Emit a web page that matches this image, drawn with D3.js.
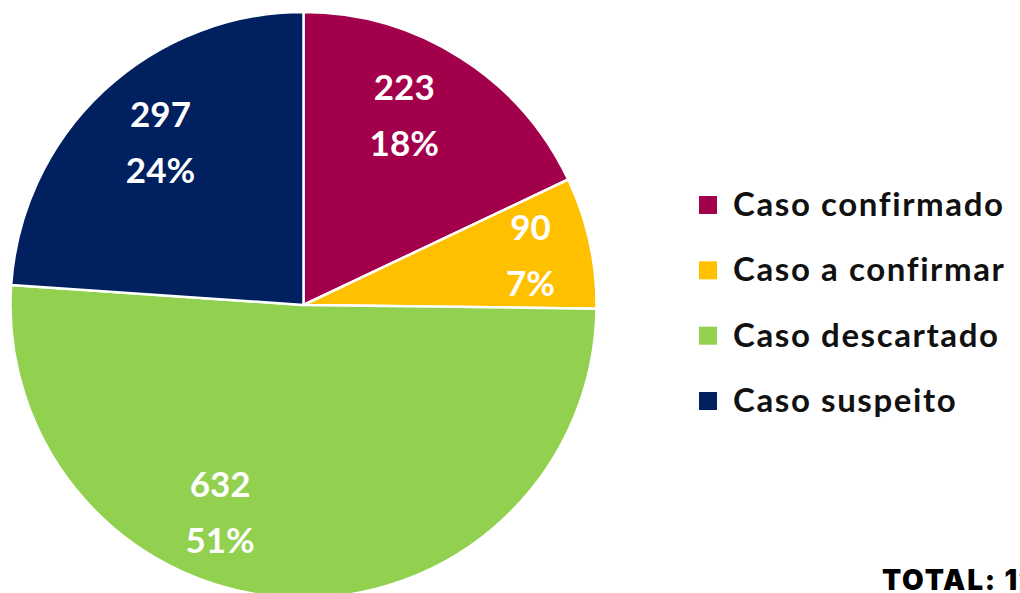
<!DOCTYPE html>
<html>
<head>
<meta charset="utf-8">
<script src="https://cdn.jsdelivr.net/npm/d3@7"></script>
<style>
	html, body { margin: 0; padding: 0; background: #fff; overflow: hidden; }
	svg { display: block; }
	.slice-label { font-family: Lato, "Open Sans", sans-serif; font-weight: 700; fill: #fff; }
	.legend-text { font-family: Lato, "Open Sans", sans-serif; font-weight: 700; fill: #111; letter-spacing: 1.6px; }
	#total { font-family: Inter, sans-serif; font-weight: 900; fill: #000; letter-spacing: 1.8px; }
</style>
</head>
<body>
<svg id="chart" width="1020" height="593"></svg>
<script>
const categories = ['Caso confirmado', 'Caso a confirmar', 'Caso descartado', 'Caso suspeito'];
const values = [223, 90, 632, 297];
const colors = ['#A3004C', '#FFC000', '#92D050', '#002060'];

const w = 1020;
const h = 593;
const cx = 303.5;
const cy = 305;
const radius = 293;

// where excel put each label: angle nudge (deg) and distance from center (first baseline)
const labelPlacement = {
	'Caso confirmado': { nudge: -6.1, r: 228 },
	'Caso a confirmar': { nudge: -3.6, r: 236 },
	'Caso descartado': { nudge: 21.2, r: 209 },
	'Caso suspeito': { nudge: 4.2, r: 228 }
};

const total = d3.sum(values);
const data = categories.map((c, i) => ({ name: c, value: values[i], color: colors[i] }));

const svg = d3.select('#chart');

const pie = d3.pie()
	.sort(null)
	.value(d => d.value);

const arc = d3.arc()
	.innerRadius(0)
	.outerRadius(radius);

const g = svg.append('g')
	.attr('transform', `translate(${cx}, ${cy})`);

const arcs = pie(data);

g.selectAll('path')
	.data(arcs)
	.enter()
	.append('path')
	.attr('d', arc)
	.attr('fill', d => d.data.color)
	.attr('stroke', '#fff')
	.attr('stroke-width', 2.5)
	.attr('stroke-linejoin', 'round');

const labelPos = (d) => {
	const p = labelPlacement[d.data.name];
	const a = (d.startAngle + d.endAngle) / 2 + p.nudge * Math.PI / 180;
	return [Math.sin(a) * p.r, -Math.cos(a) * p.r];
};

const labels = g.selectAll('.slice-label')
	.data(arcs)
	.enter()
	.append('text')
	.attr('class', 'slice-label')
	.attr('text-anchor', 'middle')
	.attr('font-size', 35)
	.attr('transform', d => `translate(${labelPos(d)})`);

labels.append('tspan')
	.attr('x', 0)
	.attr('y', 0)
	.text(d => d.data.value);

labels.append('tspan')
	.attr('x', 0)
	.attr('y', 56)
	.text(d => Math.round(d.data.value / total * 100) + '%');

// legend
const legend = svg.append('g')
	.attr('transform', 'translate(699, 0)');

const rowY = d3.scalePoint()
	.domain(categories)
	.range([216, 412]);

const rows = legend.selectAll('g')
	.data(data)
	.enter()
	.append('g')
	.attr('transform', d => `translate(0, ${rowY(d.name)})`);

rows.append('rect')
	.attr('x', 0)
	.attr('y', -20)
	.attr('width', 18)
	.attr('height', 18)
	.attr('fill', d => d.color);

rows.append('text')
	.attr('class', 'legend-text')
	.attr('x', 34)
	.attr('y', 0)
	.attr('font-size', 33)
	.text(d => d.name);

svg.append('text')
	.attr('id', 'total')
	.attr('x', 882)
	.attr('y', 590)
	.attr('font-size', 28)
	.text('TOTAL: ' + total);
</script>
</body>
</html>
